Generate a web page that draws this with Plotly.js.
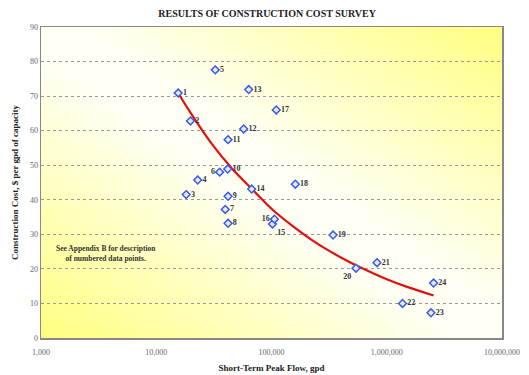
<!DOCTYPE html>
<html>
<head>
<meta charset="utf-8">
<script src="https://cdn.plot.ly/plotly-3.0.1.min.js"></script>
<style>html,body{margin:0;padding:0;background:#fff;}#chart{width:529px;height:375px;}</style>
</head>
<body>
<div id="chart"></div>
<script>
// Survey data points (short-term peak flow, gpd; cost, $ per gpd)
const pointLabels = ["1","2","3","4","5","6","7","8","9","10","11","12","13","14","15","16","17","18","19","20","21","22","23","24"];
const peakFlow = [15500,19800,18200,22900,32500,35500,39700,42000,42000,41700,42000,57400,63400,67300,102000,106000,110000,161000,342000,541000,823000,1370000,2420000,2550000];
const cost = [70.9,62.8,41.5,45.7,77.6,48.0,37.2,33.2,41.0,48.9,57.4,60.5,71.9,43.1,33.0,34.4,66.0,44.5,29.8,20.2,21.8,10.0,7.3,15.9];
const labelPos = ["middle right","middle right","middle right","middle right","middle right","middle left","middle right","middle right","middle right","middle right","middle right","middle right","middle right","middle right","bottom right","middle left","middle right","middle right","middle right","bottom left","middle right","middle right","middle right","middle right"];

// Trend curve
const trendFlow = [15500,20000,30000,45000,70000,100000,150000,250000,400000,600000,1000000,1500000,2550000];
const trendCost = [70.9,65.0,56.4,49.2,42.6,37.4,32.6,27.3,23.3,20.3,17.0,14.8,12.3];

const xTickVals = [1000,10000,100000,1000000,10000000];
const xTickText = ["1,000","10,000","100,000","1,000,000","10,000,000"];

const serif = "Liberation Serif, Times New Roman, serif";

const svg = '<svg xmlns="http://www.w3.org/2000/svg" width="100" height="100" preserveAspectRatio="none">' +
  '<defs><linearGradient id="g" x1="0" y1="1" x2="1" y2="0">' +
  '<stop offset="0" stop-color="#FFFF80"/><stop offset="0.45" stop-color="#FFFFF4"/>' +
  '<stop offset="0.55" stop-color="#FFFFF4"/><stop offset="1" stop-color="#FFFF80"/>' +
  '</linearGradient></defs><rect width="100" height="100" fill="url(#g)"/></svg>';
const bgSrc = 'data:image/svg+xml;charset=utf-8,' + encodeURIComponent(svg);

const traces = [
  {
    x: trendFlow, y: trendCost, type: 'scatter', mode: 'lines',
    line: {color: '#E01010', width: 2.2, shape: 'spline'},
    hoverinfo: 'skip'
  },
  {
    x: peakFlow, y: cost, type: 'scatter', mode: 'markers+text',
    text: pointLabels, textposition: labelPos,
    textfont: {family: serif, size: 8, color: '#333', weight: 'bold'},
    marker: {symbol: 'diamond', size: 6, color: '#E4ECFF', line: {color: '#3a5ae8', width: 1.5}}
  }
];

const layout = {
  width: 529, height: 375,
  margin: {l: 41, r: 27, t: 27, b: 37},
  paper_bgcolor: '#ffffff',
  plot_bgcolor: 'rgba(0,0,0,0)',
  showlegend: false,
  title: {
    text: '<b>RESULTS OF CONSTRUCTION COST SURVEY</b>',
    font: {family: serif, size: 10, color: '#222'},
    x: 0.505, xanchor: 'center', y: 0.965, yanchor: 'middle', yref: 'container'
  },
  xaxis: {
    type: 'log', range: [3, 7],
    tickvals: xTickVals, ticktext: xTickText,
    tickfont: {family: serif, size: 8, color: '#666'},
    ticks: 'outside', ticklen: 6, tickcolor: 'rgba(0,0,0,0)',
    showgrid: false, zeroline: false,
    showline: true, mirror: true, linecolor: '#888', linewidth: 1.5,
    title: {text: '<b>Short-Term Peak Flow, gpd</b>', font: {family: serif, size: 9, color: '#222'}, standoff: 8}
  },
  yaxis: {
    range: [0, 90], dtick: 10,
    tickfont: {family: serif, size: 8, color: '#666'},
    ticks: '', showgrid: true, gridcolor: '#999', griddash: 'dot', gridwidth: 1,
    zeroline: false,
    showline: true, mirror: true, linecolor: '#888', linewidth: 1.5,
    title: {text: '<b>Construction Cost, $ per gpd of capacity</b>', font: {family: serif, size: 9, color: '#222'}, standoff: 10}
  },
  images: [{
    source: bgSrc, xref: 'paper', yref: 'paper', x: 0, y: 1, sizex: 1, sizey: 1,
    xanchor: 'left', yanchor: 'top', sizing: 'stretch', layer: 'below'
  }],
  annotations: [{
    text: '<b>See Appendix B for description<br>of numbered data points.</b>',
    xref: 'paper', yref: 'paper', x: 0.141, y: 0.272, xanchor: 'center', yanchor: 'middle',
    showarrow: false, align: 'center',
    font: {family: serif, size: 7.5, color: '#333'}
  }]
};

Plotly.newPlot('chart', traces, layout, {displayModeBar: false, staticPlot: true});
</script>
</body>
</html>
